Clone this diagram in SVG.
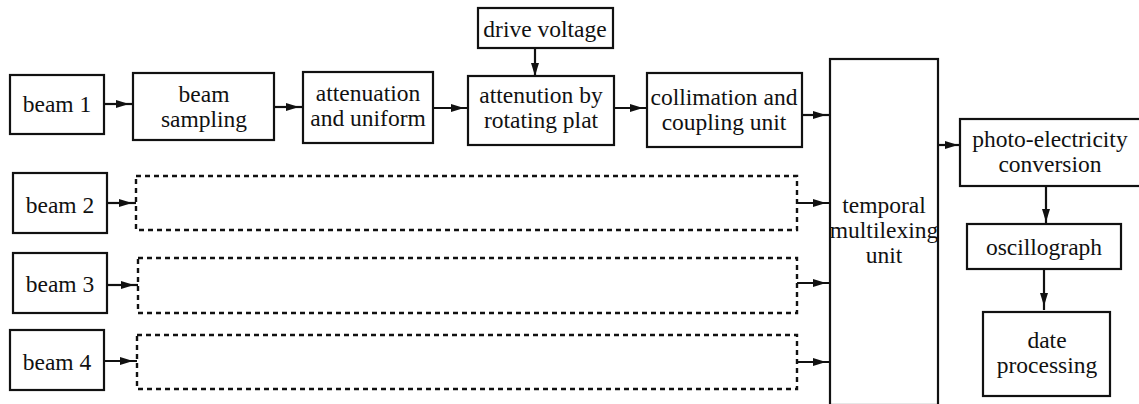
<svg xmlns="http://www.w3.org/2000/svg" width="1139" height="404" viewBox="0 0 1139 404">
  <style>
    .box { fill: #fff; stroke: #111; stroke-width: 2.2; }
    .dash { fill: none; stroke: #111; stroke-width: 2.4; stroke-dasharray: 5 4; }
    .lbl { font-family: "Liberation Serif", "Times New Roman", serif; font-size: 23.5px; fill: #111; text-anchor: middle; }
    .wire { stroke: #111; stroke-width: 2.2; fill: none; marker-end: url(#arrow); }
  </style>
  <defs>
    <marker id="arrow" markerUnits="userSpaceOnUse" viewBox="0 0 13 9" markerWidth="13" markerHeight="9" refX="17" refY="4.5" orient="auto" overflow="visible">
      <path d="M0,0.5 L13,4.5 L0,8.5 Z" fill="#111"/>
    </marker>
  </defs>
  <rect width="1139" height="404" fill="#fff"/>

  <g id="connectors">
    <line class="wire" x1="104" y1="104" x2="133" y2="104"/>
    <line class="wire" x1="274" y1="107" x2="303" y2="107"/>
    <line class="wire" x1="433" y1="108" x2="468" y2="108"/>
    <line class="wire" x1="535" y1="48" x2="535" y2="80"/>
    <line class="wire" x1="614" y1="108" x2="647" y2="108"/>
    <line class="wire" x1="802" y1="115" x2="830" y2="115"/>
    <line class="wire" x1="107" y1="203" x2="136" y2="203"/>
    <line class="wire" x1="797" y1="203" x2="830" y2="203"/>
    <line class="wire" x1="107" y1="285" x2="138" y2="285"/>
    <line class="wire" x1="797" y1="283" x2="830" y2="283"/>
    <line class="wire" x1="104" y1="361" x2="137" y2="361"/>
    <line class="wire" x1="797" y1="362" x2="830" y2="362"/>
    <line class="wire" x1="938" y1="145" x2="962" y2="145"/>
    <line class="wire" x1="1046" y1="186" x2="1046" y2="226"/>
    <line class="wire" x1="1044" y1="269" x2="1044" y2="310"/>
  </g>

  <g id="beam1">
    <rect class="box" x="10" y="75" width="94" height="59"/>
    <text class="lbl" x="57" y="112">beam 1</text>
  </g>
  <g id="beam-sampling">
    <rect class="box" x="133" y="73" width="141" height="67"/>
    <text class="lbl" x="204" y="102">beam</text>
    <text class="lbl" x="204" y="127">sampling</text>
  </g>
  <g id="attenuation-uniform">
    <rect class="box" x="303" y="72" width="130" height="71"/>
    <text class="lbl" x="368" y="101">attenuation</text>
    <text class="lbl" x="368" y="126">and uniform</text>
  </g>
  <g id="drive-voltage">
    <rect class="box" x="478" y="8" width="135" height="40"/>
    <text class="lbl" x="545" y="37">drive voltage</text>
  </g>
  <g id="rotating-plat">
    <rect class="box" x="468" y="76" width="146" height="69"/>
    <text class="lbl" x="541" y="103">attenution by</text>
    <text class="lbl" x="541" y="128">rotating plat</text>
  </g>
  <g id="collimation">
    <rect class="box" x="647" y="73" width="155" height="74"/>
    <text class="lbl" x="724" y="105">collimation and</text>
    <text class="lbl" x="724" y="130">coupling unit</text>
  </g>

  <g id="beam2">
    <rect class="box" x="13" y="173" width="94" height="60"/>
    <text class="lbl" x="60" y="213">beam 2</text>
  </g>
  <g id="path2">
    <rect class="dash" x="136" y="176" width="661" height="54"/>
  </g>
  <g id="beam3">
    <rect class="box" x="13" y="253" width="94" height="60"/>
    <text class="lbl" x="60" y="292">beam 3</text>
  </g>
  <g id="path3">
    <rect class="dash" x="138" y="258" width="659" height="55"/>
  </g>
  <g id="beam4">
    <rect class="box" x="10" y="330" width="94" height="60"/>
    <text class="lbl" x="57" y="370">beam 4</text>
  </g>
  <g id="path4">
    <rect class="dash" x="137" y="335" width="660" height="54"/>
  </g>

  <g id="temporal-multiplexing">
    <rect class="box" x="830" y="59" width="108" height="346"/>
    <text class="lbl" x="884" y="213">temporal</text>
    <text class="lbl" x="884" y="238">multilexing</text>
    <text class="lbl" x="884" y="263">unit</text>
  </g>
  <g id="photo-electricity">
    <rect class="box" x="960" y="119" width="190" height="67"/>
    <text class="lbl" x="1050" y="147">photo-electricity</text>
    <text class="lbl" x="1050" y="172">conversion</text>
  </g>
  <g id="oscillograph">
    <rect class="box" x="967" y="224" width="154" height="45"/>
    <text class="lbl" x="1044" y="255">oscillograph</text>
  </g>
  <g id="date-processing">
    <rect class="box" x="983" y="312" width="127" height="84"/>
    <text class="lbl" x="1047" y="348">date</text>
    <text class="lbl" x="1047" y="373">processing</text>
  </g>
</svg>
